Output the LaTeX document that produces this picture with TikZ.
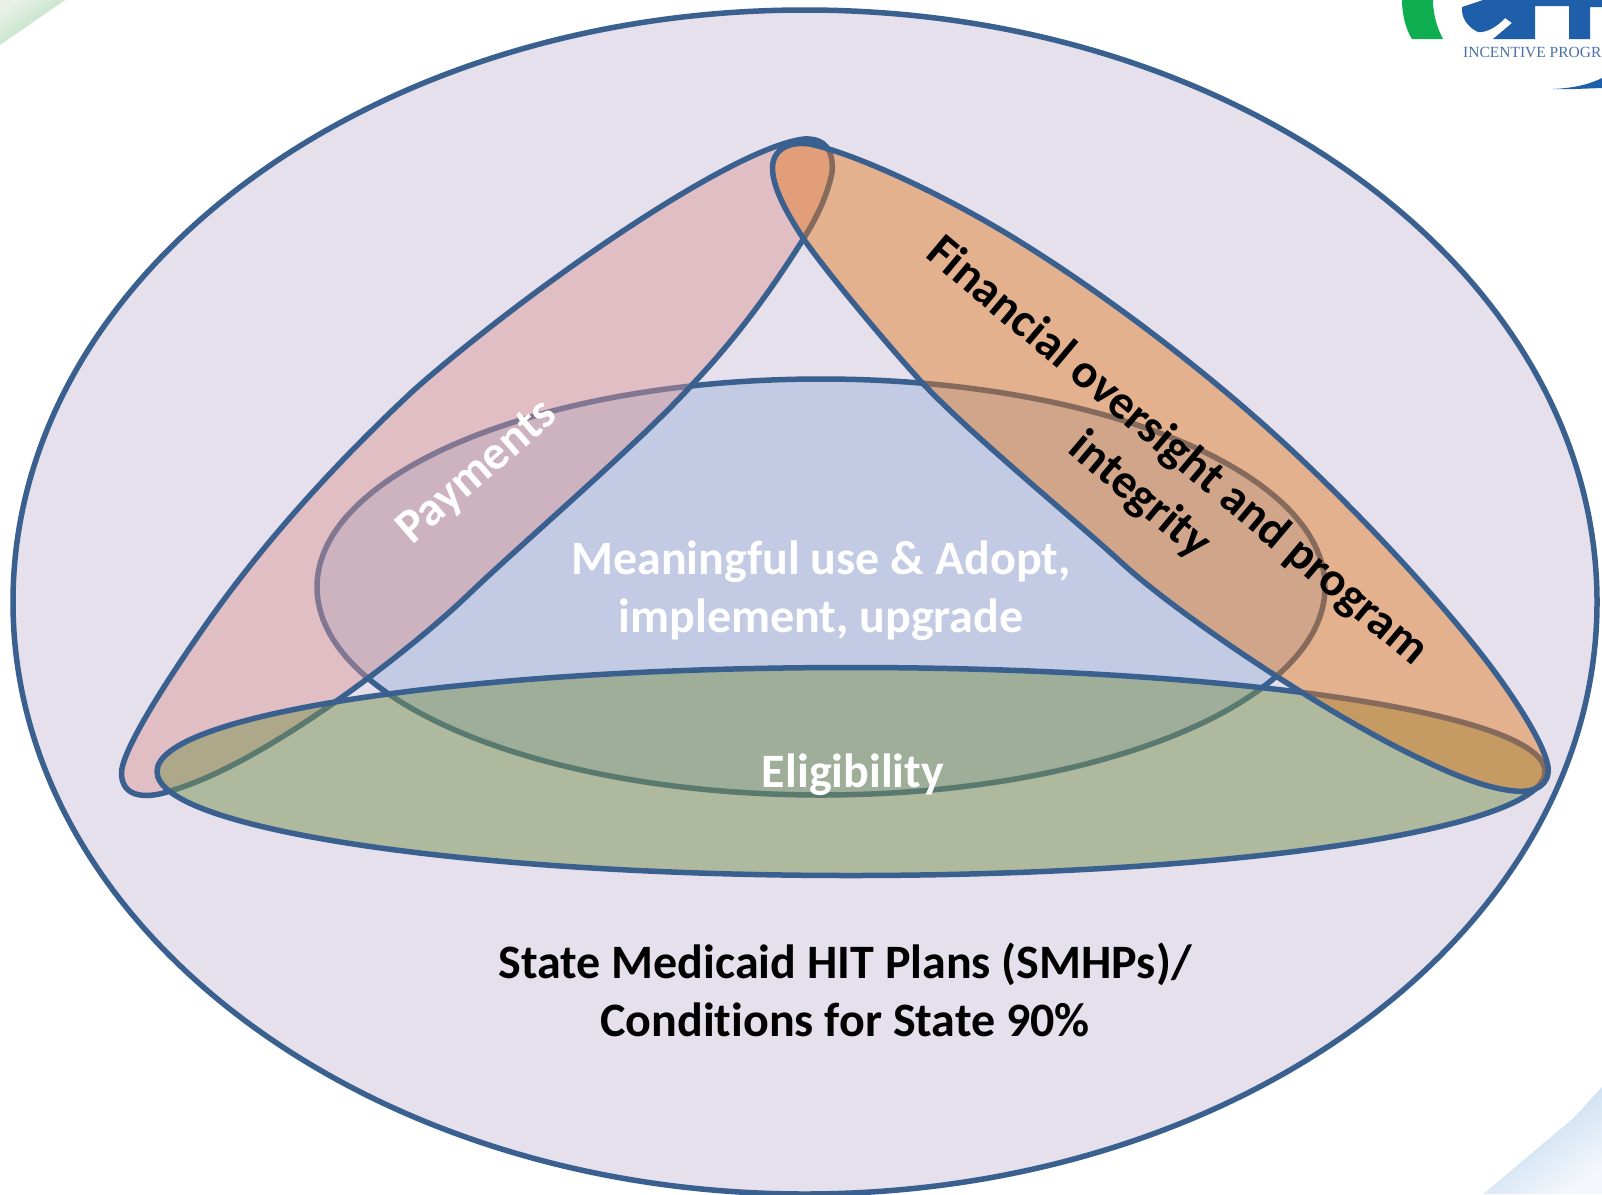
\documentclass[tikz,border=0pt]{standalone}
\usepackage{fontspec}
\setmainfont[Ligatures=NoCommon]{Carlito}
\newfontfamily\logofont{Liberation Serif}
\definecolor{edgeblue}{HTML}{3A6090}
\definecolor{lav}{HTML}{E5E0EC}
\definecolor{midblue}{HTML}{C3CAE3}
\definecolor{pinkc}{HTML}{DA9595}
\definecolor{greenc}{HTML}{7A9450}
\definecolor{orangec}{HTML}{E3781D}
\definecolor{logoblue}{HTML}{1F5FAA}
\definecolor{logogreen}{HTML}{0FAE50}
\definecolor{logotextc}{HTML}{4A72A8}
\definecolor{tlA}{HTML}{E8F0E8}
\definecolor{tlB}{HTML}{ADDCB4}
\definecolor{brA}{HTML}{B8D4EE}
\definecolor{brB}{HTML}{F4F7FB}
\tikzset{
 region/.style={draw=edgeblue,line width=5.5pt,line join=round},
 lab/.style={font=\bfseries\fontsize{48}{58}\selectfont,align=center,inner sep=0pt},
}
\begin{document}
\begin{tikzpicture}[x=1pt,y=-1pt]
\useasboundingbox (0,0) rectangle (1602,1194);
\clip (0,0) rectangle (1602,1194);
\fill[white] (0,0) rectangle (1602,1194);
% corners
\shade[shading=axis,top color=tlA,bottom color=tlB,shading angle=35] (0,0) -- (65,0) -- (0,45) -- cycle;
\shade[shading=axis,top color=brA,bottom color=brB,shading angle=35] (1602,1087) .. controls (1585,1105) and (1575,1118) .. (1563,1127) .. controls (1535,1150) and (1510,1172) .. (1483,1194) -- (1602,1194) -- cycle;
% logo
\fill[logogreen] (1402,0) .. controls (1402,15) and (1406,30) .. (1412,39) -- (1443,39) .. controls (1437,28) and (1433,14) .. (1433,0) -- cycle;
\fill[logoblue] (1483,0) -- (1462,7) .. controls (1461,17) and (1467,27) .. (1478,32) .. controls (1486,33) and (1497,27) .. (1505,18) -- (1512,23) -- (1493,39) -- (1535,39) -- (1535,6) -- (1569,6) -- (1569,39) -- (1590,39) -- (1590,7) -- (1602,7) -- (1602,0) -- cycle;
\node[font=\logofont\fontsize{15.5}{15.5}\selectfont,text=logotextc,anchor=west,inner sep=0pt] (logotext) at (1463,52) {INCENTIVE PROGR};
\fill[logoblue] (1553,89) .. controls (1575,88) and (1590,84) .. (1602,78) -- (1602,88) -- (1575,89) -- cycle;
% outer
\draw[region,fill=lav] (805,602) ellipse [x radius=792,y radius=592];
% blue
\draw[region,fill=midblue] (821,587) ellipse [x radius=504,y radius=208];
% pink
\draw[region,fill=pinkc,fill opacity=.45]
 (121.5,772) .. controls (123,748) and (170,675) .. (212,616)
 .. controls (270,535) and (341,458) .. (414,390)
 .. controls (525,292) and (730,148) .. (804,139)
 .. controls (825,138) and (834,150) .. (832,173)
 .. controls (826,200) and (815,220) .. (804,238)
 .. controls (770,292) and (735,340) .. (689,388)
 .. controls (640,442) and (519,546) .. (469,594)
 .. controls (409,652) and (262,765) .. (170,791)
 .. controls (150,798) and (121,800) .. (121.5,772) -- cycle;
% green
\draw[region,fill=greenc,fill opacity=.5] (851,771.5) ellipse [x radius=694,y radius=104];
% orange
\draw[region,fill=orangec,fill opacity=.45]
 (772.5,169) .. controls (772,150) and (788,141) .. (810,144)
 .. controls (860,155) and (952,199) .. (1022,243)
 .. controls (1107,296) and (1200,367) .. (1274,434)
 .. controls (1348,501) and (1435,594) .. (1485,659)
 .. controls (1515,698) and (1545,745) .. (1548,767)
 .. controls (1550,785) and (1535,793) .. (1515,791)
 .. controls (1490,789) and (1458,777) .. (1425,761)
 .. controls (1332,718) and (1180,616) .. (1123,564)
 .. controls (1073,518) and (971,435) .. (921,381.5)
 .. controls (885,342) and (825,270) .. (803,238)
 .. controls (790,218) and (773,190) .. (772.5,169) -- cycle;
% labels
\node[lab,text=white,rotate=41] (pay) at (478,473) {Payments};
\node[lab,text=white] (mu) at (821,591) {Meaningful use \& Adopt,\\implement, upgrade};
\node[lab,text=white] (el) at (853,775) {Eligibility};
\node[lab,text=black,rotate=-40] (fin) at (1158,474) {Financial oversight and program\\integrity};
\node[lab,text=black] (smhp) at (845,990) {State Medicaid HIT Plans (SMHPs)/\\Conditions for State 90\%};
\end{tikzpicture}
\end{document}
